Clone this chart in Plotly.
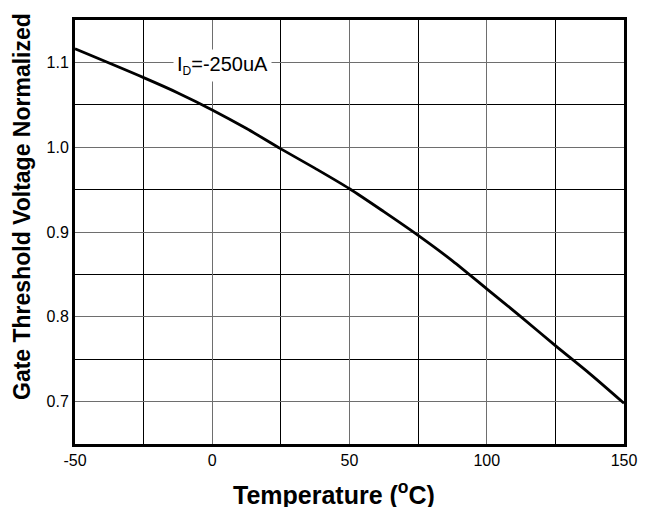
import plotly.graph_objects as go

temperature = [-50, -25, -12.5, 0, 12.5, 25, 37.5, 50, 62.5, 75, 87.5, 100, 112.5, 125, 137.5, 150]
vth_norm = [1.116, 1.082, 1.064, 1.044, 1.022, 0.998, 0.975, 0.951, 0.924, 0.896, 0.866, 0.833, 0.800, 0.766, 0.733, 0.698]

x_ticks = [-50, 0, 50, 100, 150]
y_ticks = [0.7, 0.8, 0.9, 1.0, 1.1]

FONT = "Liberation Sans, Arial, sans-serif"

fig = go.Figure()
fig.add_trace(go.Scatter(
    x=temperature, y=vth_norm, mode="lines",
    line=dict(color="black", width=2.8, shape="spline", smoothing=0.8),
    showlegend=False, hoverinfo="skip",
))

fig.add_annotation(
    x=3.6, y=1.096, xref="x", yref="y",
    text="I<sub><span style='font-size:12px'>D</span></sub>=-250uA", showarrow=False,
    font=dict(family=FONT, size=20, color="black"),
    bgcolor="white", borderpad=3,
)

# axis titles as annotations (offset like the reference)
fig.add_annotation(
    x=-0.0965, y=0.559, xref="paper", yref="paper",
    text="<b>Gate Threshold Voltage Normalized</b>", textangle=-90,
    showarrow=False, xanchor="center", yanchor="middle",
    font=dict(family=FONT, size=23, color="black"),
)
fig.add_annotation(
    x=0.4718, y=-0.1156, xref="paper", yref="paper",
    text="<b>Temperature (<sup>o</sup>C)</b>",
    showarrow=False, xanchor="center", yanchor="middle",
    font=dict(family=FONT, size=25, color="black"),
)

major_grid = "#6e6e6e"
minor_grid = "#000000"
fig.update_xaxes(
    range=[-50, 150], tickvals=x_ticks, ticktext=[str(v) for v in x_ticks],
    showgrid=True, gridcolor=major_grid, gridwidth=1,
    minor=dict(dtick=25, tick0=-50, showgrid=True, gridcolor=minor_grid, gridwidth=1),
    showline=True, linecolor="black", linewidth=3, mirror=True,
    ticks="", zeroline=False,
    tickfont=dict(family=FONT, size=16, color="black"),
)
fig.update_yaxes(
    range=[0.65, 1.15], tickvals=y_ticks, ticktext=[f"{v:.1f}" for v in y_ticks],
    showgrid=True, gridcolor=major_grid, gridwidth=1,
    minor=dict(dtick=0.05, tick0=0.65, showgrid=True, gridcolor=minor_grid, gridwidth=1),
    showline=True, linecolor="black", linewidth=3, mirror=True,
    ticks="", zeroline=False,
    tickfont=dict(family=FONT, size=16, color="black"),
)
fig.update_layout(
    width=641, height=499,
    margin=dict(l=67, r=25, t=12, b=63, autoexpand=False),
    paper_bgcolor="white", plot_bgcolor="white",
    font=dict(family=FONT),
)
fig.write_html("out.html")
